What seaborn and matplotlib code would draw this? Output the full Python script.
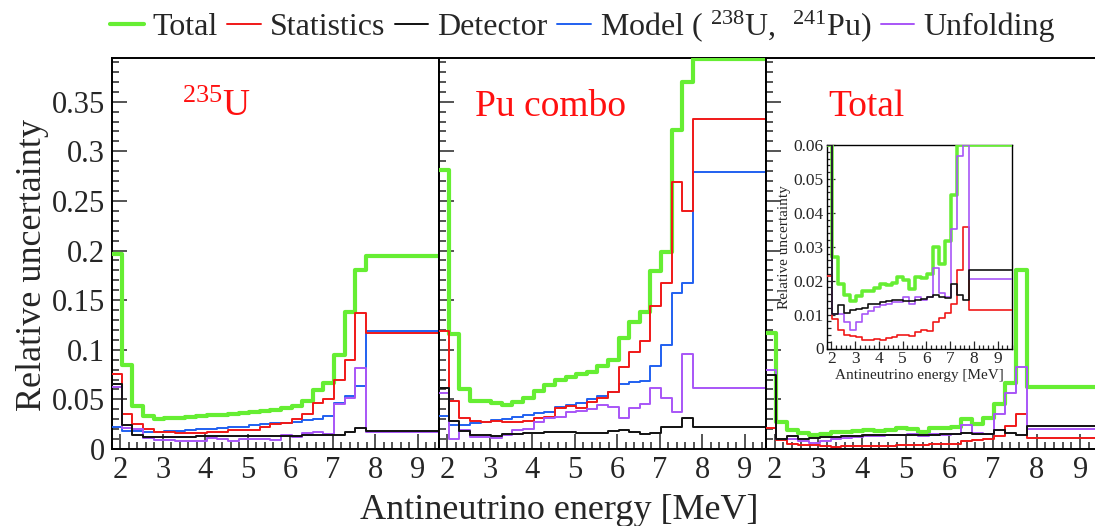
import numpy as np
import pandas as pd
import matplotlib
matplotlib.use("Agg")
import matplotlib.pyplot as plt
from matplotlib.lines import Line2D
from matplotlib.ticker import MultipleLocator
import seaborn as sns

# bin edges in antineutrino energy [MeV] (last bin is wide)
energy_edges = [1.78, 2.03, 2.28, 2.53, 2.78, 3.03, 3.28, 3.53, 3.78, 4.03, 4.28,
                4.53, 4.78, 5.03, 5.28, 5.53, 5.78, 6.03, 6.28, 6.53, 6.78,
                7.03, 7.28, 7.53, 7.78, 12.78]

# 235U panel
u235_total = [0.196, 0.085, 0.043, 0.033, 0.030, 0.031, 0.031, 0.032, 0.033, 0.034, 0.034, 0.035, 0.036,
              0.037, 0.038, 0.039, 0.041, 0.043, 0.048, 0.059, 0.067, 0.095, 0.138, 0.180, 0.194]
u235_stat = [0.076, 0.035, 0.025, 0.020, 0.0175, 0.0175, 0.0165, 0.0165, 0.0165, 0.017, 0.017, 0.019, 0.019,
             0.019, 0.0225, 0.0255, 0.026, 0.030, 0.035, 0.046, 0.050, 0.070, 0.090, 0.137, 0.1165]
u235_det = [0.0655, 0.024, 0.014, 0.0125, 0.0125, 0.0125, 0.0125, 0.0125, 0.013, 0.013, 0.013, 0.013, 0.013,
            0.013, 0.013, 0.0135, 0.0135, 0.0135, 0.014, 0.014, 0.014, 0.014, 0.0175, 0.021, 0.018]
u235_model = [0.0225, 0.0185, 0.018, 0.0175, 0.0175, 0.018, 0.018, 0.019, 0.020, 0.020, 0.021, 0.022, 0.022,
              0.024, 0.025, 0.026, 0.026, 0.0275, 0.029, 0.030, 0.033, 0.046, 0.053, 0.063, 0.119]
u235_unf = [0.062, 0.021, 0.020, 0.011, 0.009, 0.009, 0.0085, 0.008, 0.008, 0.011, 0.010, 0.008, 0.010,
            0.0105, 0.0105, 0.009, 0.014, 0.0125, 0.016, 0.0175, 0.015, 0.045, 0.051, 0.082, 0.017]

# Pu combo panel
pu_total = [0.281, 0.116, 0.060, 0.048, 0.048, 0.0465, 0.044, 0.0476, 0.051, 0.058, 0.064, 0.070, 0.073,
            0.0755, 0.078, 0.084, 0.090, 0.112, 0.128, 0.138, 0.179, 0.199, 0.321, 0.370, 0.393]
pu_stat = [0.119, 0.048, 0.031, 0.0286, 0.0275, 0.028, 0.027, 0.0275, 0.0286, 0.031, 0.032, 0.041, 0.043,
           0.041, 0.0476, 0.051, 0.057, 0.083, 0.098, 0.109, 0.144, 0.167, 0.269, 0.240, 0.333]
pu_det = [0.061, 0.0286, 0.0185, 0.0142, 0.014, 0.0135, 0.0147, 0.015, 0.0158, 0.016, 0.017, 0.0175, 0.017,
          0.0165, 0.016, 0.0165, 0.0185, 0.019, 0.017, 0.015, 0.0158, 0.0225, 0.0225, 0.031, 0.0225]
pu_model = [0.033, 0.024, 0.024, 0.026, 0.0275, 0.029, 0.030, 0.032, 0.034, 0.036, 0.0375, 0.042, 0.044,
            0.0466, 0.050, 0.053, 0.057, 0.065, 0.068, 0.069, 0.084, 0.105, 0.157, 0.167, 0.279]
pu_unf = [0.056, 0.0097, 0.019, 0.0125, 0.012, 0.011, 0.0142, 0.019, 0.020, 0.0275, 0.031, 0.032, 0.0377,
          0.0387, 0.040, 0.0443, 0.042, 0.031, 0.041, 0.045, 0.0617, 0.0517, 0.0377, 0.096, 0.0614]

# Total spectrum panel (no model uncertainty)
tot_total = [0.1165, 0.027, 0.019, 0.0157, 0.014, 0.0154, 0.0169, 0.0171, 0.0179, 0.0189, 0.0186, 0.0193, 0.021,
             0.0203, 0.0176, 0.021, 0.0208, 0.022, 0.030, 0.0248, 0.0316, 0.0453, 0.067, 0.180, 0.062]
tot_stat = [0.0215, 0.0088, 0.0054, 0.0039, 0.0036, 0.0034, 0.0024, 0.0026, 0.0029, 0.0026, 0.0032, 0.0034, 0.0039,
            0.0039, 0.0038, 0.0049, 0.0054, 0.0051, 0.0078, 0.0091, 0.0105, 0.0132, 0.023, 0.0357, 0.0113]
tot_det = [0.0745, 0.0101, 0.0127, 0.0105, 0.0113, 0.0117, 0.012, 0.0132, 0.0132, 0.0137, 0.014, 0.0144, 0.0142,
           0.014, 0.014, 0.0144, 0.0147, 0.0152, 0.0157, 0.0152, 0.0149, 0.0191, 0.0157, 0.0144, 0.0232]
tot_unf = [0.080, 0.0103, 0.0103, 0.0078, 0.0056, 0.0078, 0.0103, 0.0111, 0.0122, 0.0127, 0.0132, 0.0137, 0.0137,
           0.0152, 0.0132, 0.0152, 0.0142, 0.0152, 0.0238, 0.0163, 0.0152, 0.0352, 0.0568, 0.083, 0.0206]

panel_names = ["$^{235}$U", "Pu combo", "Total"]
series_names = ["Total", "Statistics", "Detector", "Model ( $^{238}$U,  $^{241}$Pu)", "Unfolding"]
colors = {"Total": "#66ee33", "Statistics": "#f01818", "Detector": "#111111",
          "Model": "#2060f0", "Unfolding": "#a855f7"}

xticks = [2, 3, 4, 5, 6, 7, 8, 9]
yticks = [0, 0.05, 0.1, 0.15, 0.2, 0.25, 0.3, 0.35]
ytick_labels = ["0", "0.05", "0.1", "0.15", "0.2", "0.25", "0.3", "0.35"]
inset_yticks = [0, 0.01, 0.02, 0.03, 0.04, 0.05, 0.06]
inset_ytick_labels = ["0", "0.01", "0.02", "0.03", "0.04", "0.05", "0.06"]

panels = [
    {"Total": u235_total, "Statistics": u235_stat, "Detector": u235_det, "Model": u235_model, "Unfolding": u235_unf},
    {"Total": pu_total, "Statistics": pu_stat, "Detector": pu_det, "Model": pu_model, "Unfolding": pu_unf},
    {"Total": tot_total, "Statistics": tot_stat, "Detector": tot_det, "Unfolding": tot_unf},
]

sns.set_theme(style="ticks")
plt.rcParams["font.family"] = ["Liberation Serif", "DejaVu Serif"]
plt.rcParams["mathtext.fontset"] = "custom"
plt.rcParams["mathtext.rm"] = "Liberation Serif"
plt.rcParams["mathtext.it"] = "Liberation Serif:italic"

draw_order = ["Total", "Model", "Statistics", "Unfolding", "Detector"]
lw = {"Total": 3.0, "Statistics": 1.4, "Detector": 1.4, "Model": 1.4, "Unfolding": 1.4}


def draw_hists(ax, data, clip=None, scale=1.0):
    left = energy_edges[:-1]
    for key in draw_order:
        if key not in data:
            continue
        vals = np.array(data[key], dtype=float)
        if clip is not None:
            vals = np.minimum(vals, clip)
        sns.histplot(x=left, weights=vals, bins=energy_edges, element="step", fill=False,
                     color=colors[key], linewidth=lw[key] * scale, ax=ax, zorder=3)
    ax.set_xlabel("")
    ax.set_ylabel("")


def style_axis(ax, size, major, minor, width):
    ax.tick_params(axis="both", which="major", direction="in", length=major, width=width,
                   labelsize=size, pad=5)
    ax.tick_params(axis="both", which="minor", direction="in", length=minor, width=width)
    for sp in ax.spines.values():
        sp.set_visible(True)
        sp.set_linewidth(1.4)
        sp.set_color("black")


fig = plt.figure(figsize=(10.95, 5.26), dpi=100)
W, H = 1095.0, 526.0
bottom, height = 77 / H, 391 / H
boxes = [(112, 327), (439, 327), (766, 336)]
axes = []
for i, (x0, w) in enumerate(boxes):
    ax = fig.add_axes([x0 / W, bottom, w / W, height])
    ax.set_facecolor("white")
    draw_hists(ax, panels[i])
    ax.set_xlim(1.8, 9.5)
    ax.set_ylim(0, 0.394)
    ax.set_xticks(xticks, labels=[str(t) for t in xticks])
    ax.xaxis.set_minor_locator(MultipleLocator(0.2))
    if i == 0:
        ax.set_yticks(yticks, labels=ytick_labels)
    else:
        ax.set_yticks(yticks, labels=[""] * len(yticks))
    ax.yaxis.set_minor_locator(MultipleLocator(0.01))
    style_axis(ax, 22, 11, 5, 1.1)
    ax.text(panel_names and [3.45, 2.65, 3.22][i], 0.336, panel_names[i], color="#ff1010",
            fontsize=27, ha="left", va="baseline")
    axes.append(ax)

# inset with zoomed view of the Total panel
ins = fig.add_axes([826.7 / W, (H - 348.5) / H, 185.3 / W, 203.5 / H])
ins.set_facecolor("white")
draw_hists(ins, panels[2], clip=0.06, scale=0.85)
ins.set_xlim(1.8, 9.6)
ins.set_ylim(0, 0.06)
ins.set_xticks(xticks, labels=[str(t) for t in xticks])
ins.set_yticks(inset_yticks, labels=inset_ytick_labels)
ins.xaxis.set_minor_locator(MultipleLocator(0.2))
ins.yaxis.set_minor_locator(MultipleLocator(0.002))
style_axis(ins, 12.5, 6, 3, 0.9)
ins.tick_params(axis="both", which="major", pad=2)
for sp in ins.spines.values():
    sp.set_linewidth(1.0)
ins.set_xlabel("Antineutrino energy [MeV]", fontsize=11, labelpad=1)
ins.set_ylabel("Relative uncertainty", fontsize=11, labelpad=2)

fig.text(0.511, 0.030, "Antineutrino energy [MeV]", fontsize=26, ha="center", va="center")
fig.text(0.030, 0.496, "Relative uncertainty", fontsize=26, ha="center", va="center", rotation=90)

handles = [Line2D([], [], color=colors[k], lw=lw[k])
           for k in ["Total", "Statistics", "Detector", "Model", "Unfolding"]]
fig.legend(handles, series_names, loc="center", bbox_to_anchor=(0.532, 0.95), ncol=5,
           frameon=False, fontsize=23, handlelength=1.05, handletextpad=0.28, columnspacing=0.3)

fig.savefig("out.png", dpi=100)
